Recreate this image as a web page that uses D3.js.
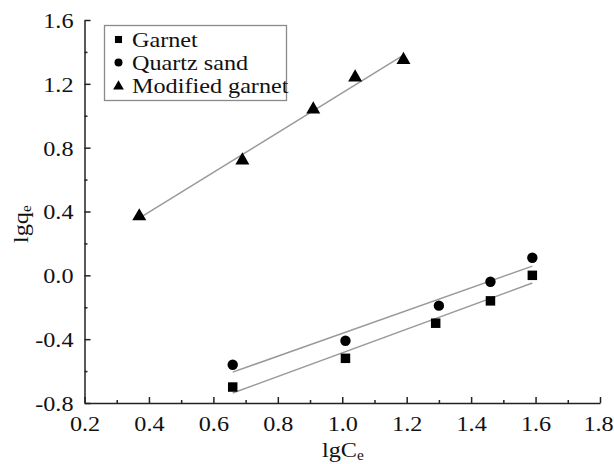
<!DOCTYPE html>
<html>
<head>
<meta charset="utf-8">
<script src="https://cdn.jsdelivr.net/npm/d3@7/dist/d3.min.js"></script>
<style>
  html, body { margin: 0; padding: 0; background: #fff; }
  svg { display: block; }
  svg text { font-family: "Liberation Serif", "DejaVu Serif", serif !important; fill: #111; }
</style>
</head>
<body>
<svg id="chart" width="614" height="464"></svg>
<script>
// Freundlich isotherm data (log-log)
const seriesNames = ["Garnet", "Quartz sand", "Modified garnet"];
const xGarnet   = [0.66, 1.01, 1.29, 1.46, 1.59];
const yGarnet   = [-0.70, -0.52, -0.30, -0.16, 0.00];
const xQuartz   = [0.66, 1.01, 1.30, 1.46, 1.59];
const yQuartz   = [-0.56, -0.41, -0.19, -0.04, 0.11];
const xModified = [0.37, 0.69, 0.91, 1.04, 1.19];
const yModified = [0.37, 0.72, 1.04, 1.24, 1.35];
const xTicks = [0.2, 0.4, 0.6, 0.8, 1.0, 1.2, 1.4, 1.6, 1.8];
const yTicks = [-0.8, -0.4, 0.0, 0.4, 0.8, 1.2, 1.6];

const svg = d3.select("#chart");
const sx = 1.1; // horizontal stretch of glyphs
const fontSize = 22;
const fmt = d => d3.format(".1f")(d).replace("\u2212", "-");

const x = d3.scaleLinear().domain([0.2, 1.8]).range([84.5, 600]);
const y = d3.scaleLinear().domain([-0.8, 1.6]).range([403, 20]);

function stretchText(sel) {
  sel.each(function () {
    const t = d3.select(this);
    const ax = +t.attr("x") || 0;
    t.attr("transform", `translate(${ax},0) scale(${sx},1) translate(${-ax},0)`);
  });
}

// minor ticks
const xMinor = d3.range(0.3, 1.8, 0.2);
const yMinor = d3.range(-0.6, 1.6, 0.4);
svg.append("g").attr("transform", `translate(0,${y(-0.8)})`)
  .call(d3.axisBottom(x).tickValues(xMinor).tickSize(-3).tickFormat("").tickSizeOuter(0))
  .call(g => g.select(".domain").remove())
  .selectAll("line").attr("stroke", "#222").attr("stroke-width", 1.5);
svg.append("g").attr("transform", `translate(${x(0.2)},0)`)
  .call(d3.axisLeft(y).tickValues(yMinor).tickSize(-3).tickFormat("").tickSizeOuter(0))
  .call(g => g.select(".domain").remove())
  .selectAll("line").attr("stroke", "#222").attr("stroke-width", 1.5);

// major axes
const gx = svg.append("g").attr("transform", `translate(0,${y(-0.8)})`)
  .call(d3.axisBottom(x).tickValues(xTicks).tickSize(-6).tickPadding(12)
    .tickFormat(fmt).tickSizeOuter(0));
const gy = svg.append("g").attr("transform", `translate(${x(0.2)},0)`)
  .call(d3.axisLeft(y).tickValues(yTicks).tickSize(-6).tickPadding(11)
    .tickFormat(fmt).tickSizeOuter(0));
[gx, gy].forEach(g => {
  g.attr("font-family", null).attr("font-size", null);
  g.select(".domain").attr("stroke", "#222").attr("stroke-width", 1.5);
  g.selectAll(".tick line").attr("stroke", "#222").attr("stroke-width", 1.5);
  g.selectAll(".tick text")
    .attr("font-size", fontSize)
    .attr("fill", "#111");
});
gy.selectAll(".tick text").attr("dy", "0.34em").call(stretchText);
gx.selectAll(".tick text").attr("dy", "0.71em")
  .attr("x", d => (d === 1.8 ? -2 : 0))
  .call(stretchText);

// linear fits over each series' x-range
function fit(xs, ys) {
  const mx = d3.mean(xs), my = d3.mean(ys);
  const sxy = d3.sum(xs, (v, i) => (v - mx) * (ys[i] - my));
  const sxx = d3.sum(xs, v => (v - mx) ** 2);
  const b = sxy / sxx, a = my - b * mx;
  const x0 = d3.min(xs), x1 = d3.max(xs);
  return [[x0, a + b * x0], [x1, a + b * x1]];
}
const line = d3.line().x(d => x(d[0])).y(d => y(d[1]));
[[xGarnet, yGarnet], [xQuartz, yQuartz], [xModified, yModified]].forEach(([xs, ys]) => {
  svg.append("path").attr("d", line(fit(xs, ys)))
    .attr("fill", "none").attr("stroke", "#9a9a9a").attr("stroke-width", 1.5);
});

// markers
const symSquare = d3.symbol().type(d3.symbolSquare).size(90);
const symCircle = d3.symbol().type(d3.symbolCircle).size(85);
const symTri = d3.symbol().type(d3.symbolTriangle).size(85);
function drawPoints(xs, ys, sym) {
  svg.append("g").selectAll("path").data(xs).join("path")
    .attr("d", sym)
    .attr("transform", (d, i) => `translate(${x(d)},${y(ys[i])})`)
    .attr("fill", "#000");
}
drawPoints(xGarnet, yGarnet, symSquare);
drawPoints(xQuartz, yQuartz, symCircle);
drawPoints(xModified, yModified, symTri);

// legend
const legend = svg.append("g");
legend.append("rect").attr("x", 104.5).attr("y", 25.5).attr("width", 182).attr("height", 75)
  .attr("fill", "#fff").attr("stroke", "#8a8a8a").attr("stroke-width", 1.3);
const legSyms = [
  d3.symbol().type(d3.symbolSquare).size(50),
  d3.symbol().type(d3.symbolCircle).size(50),
  d3.symbol().type(d3.symbolTriangle).size(50)
];
seriesNames.forEach((name, i) => {
  const cy = 39.5 + i * 23;
  legend.append("path").attr("d", legSyms[i]()).attr("transform", `translate(118.5,${cy + (i === 2 ? 1 : 0)})`).attr("fill", "#000");
  legend.append("text").attr("x", 132).attr("y", cy + 7.5)
    .attr("font-size", fontSize).text(name).call(stretchText);
});

// axis titles
const xt = svg.append("text").attr("x", 322).attr("y", 457).attr("font-size", fontSize);
xt.append("tspan").text("lgC");
xt.append("tspan").attr("font-size", 14).attr("dy", 3).text("e");
xt.call(stretchText);

const yt = svg.append("text")
  .attr("transform", `translate(28,243) rotate(-90) scale(${sx},1)`)
  .attr("font-size", fontSize);
yt.append("tspan").text("lgq");
yt.append("tspan").attr("font-size", 14).attr("dy", 3).text("e");
</script>
</body>
</html>
